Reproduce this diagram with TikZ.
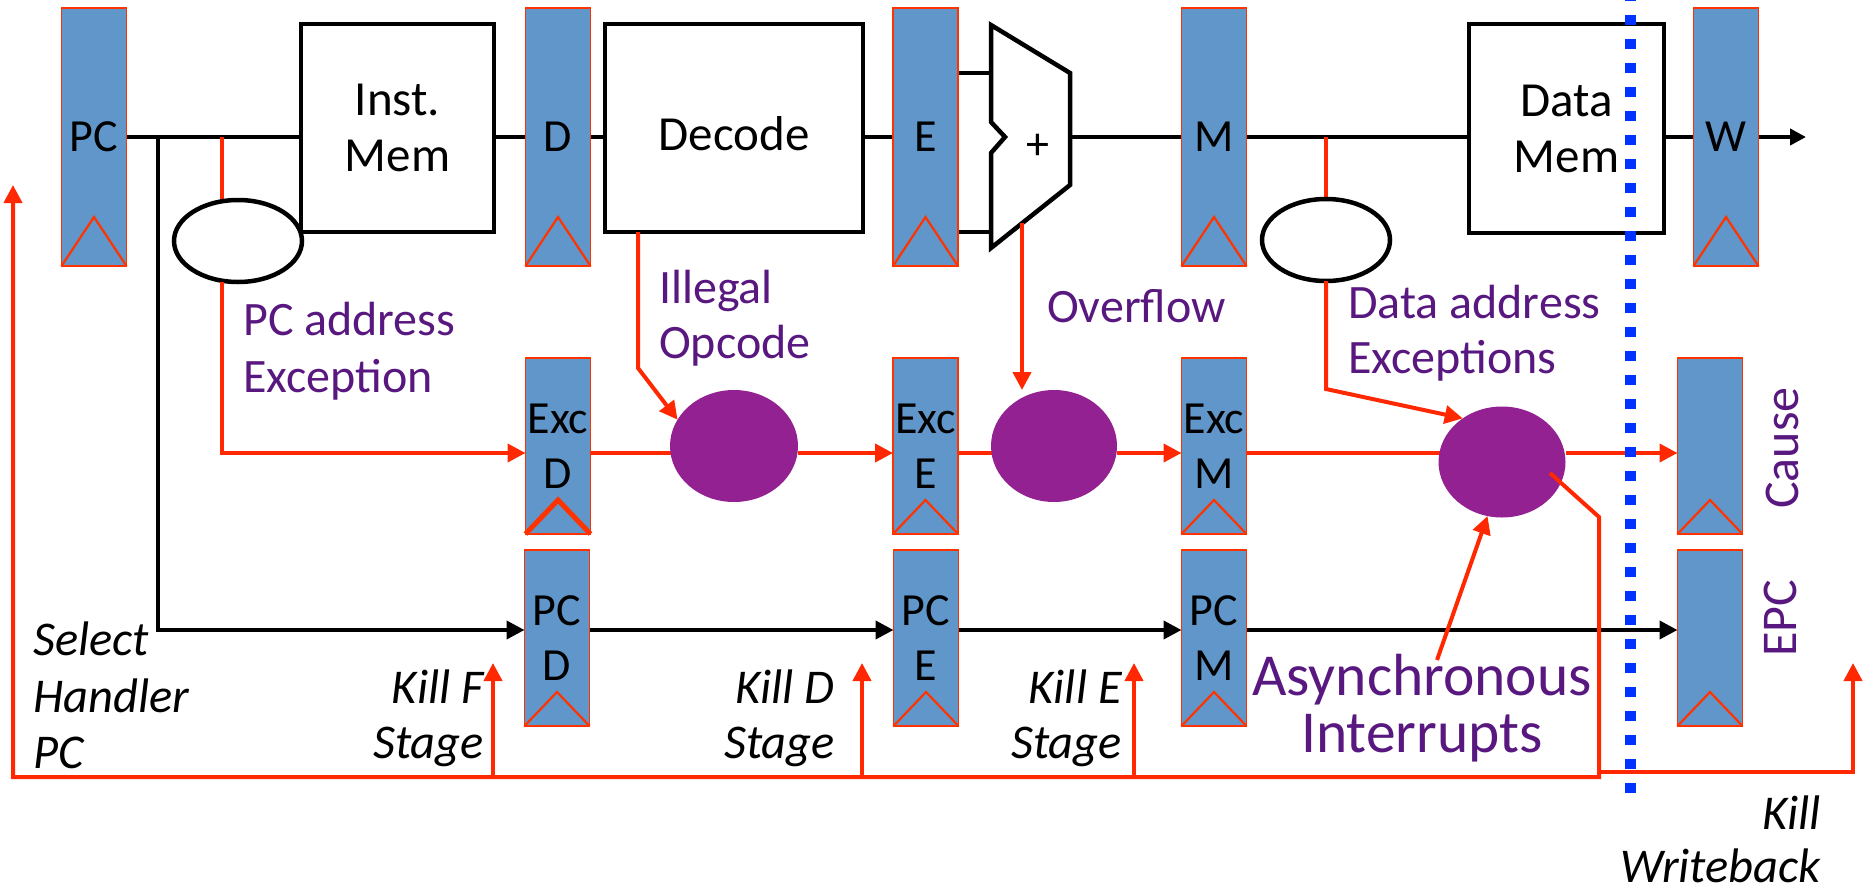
\documentclass[tikz,border=0pt]{standalone}
\usepackage{fontspec}
\setmainfont{Carlito}
\usetikzlibrary{arrows.meta,calc,shapes.geometric}
\pgfdeclarelayer{bg}
\pgfsetlayers{bg,main}
\definecolor{regblue}{RGB}{96,150,201}
\definecolor{regred}{RGB}{255,51,0}
\definecolor{wirered}{RGB}{255,40,0}
\definecolor{circpurple}{RGB}{147,33,145}
\definecolor{txtpurple}{RGB}{88,24,128}
\definecolor{dotblue}{RGB}{0,51,255}
\newcommand\regclock[3]{\draw[regred, line width=#3, line join=miter] (#1.south west) -- ($(#1.south)+(0,-#2)$) -- (#1.south east);}
\begin{document}
\begin{tikzpicture}[x=1pt,y=-1pt,
  reg/.style={draw=regred, line width=1.5pt, fill=regblue, minimum width=65pt, inner sep=0pt, outer sep=0pt,
    font=\fontsize{46}{55}\selectfont, align=center, text depth=0pt},
  mainreg/.style={reg, minimum height=258pt},
  smallreg/.style={reg, minimum height=176pt},
  blk/.style={draw=black, line width=4.5pt, fill=white, inner sep=0pt, outer sep=0pt,
    font=\fontsize{49}{56}\selectfont, align=center},
  oval/.style={ellipse, draw=black, line width=4.5pt, fill=white, inner sep=0pt, outer sep=0pt,
    minimum width=128pt, minimum height=82pt},
  dot/.style={ellipse, fill=circpurple, inner sep=0pt, outer sep=0pt},
  bw/.style={line width=4pt, draw=black},
  rw/.style={line width=4pt, draw=wirered, line join=miter},
  arr/.style={-{Triangle[length=18pt,width=18pt]}},
  ptxt/.style={text=txtpurple, font=\fontsize{48}{57}\selectfont, inner sep=0pt},
  itxt/.style={font=\fontsize{48.5}{57}\selectfont\itshape, inner sep=0pt},
  atxt/.style={text=txtpurple, font=\fontsize{59.5}{58}\selectfont, inner sep=0pt},
  rtxt/.style={text=txtpurple, font=\fontsize{50}{60}\selectfont, inner sep=0pt, rotate=90}
]
\useasboundingbox (0,0) rectangle (1864,892);

% ---------- registers and blocks ----------
\node[mainreg] (PC) at (94,137) {PC};
\node[blk, minimum width=193pt, minimum height=208pt] (IM) at (397.5,128) {Inst.\\Mem};
\node[mainreg] (D) at (558,137) {D};
\node[blk, minimum width=258pt, minimum height=208pt, text height=44pt, text depth=0pt] (DEC) at (734,128) {Decode};
\node[mainreg] (E) at (925.5,137) {E};
\node[mainreg] (M) at (1214,137) {M};
\node[blk, minimum width=195pt, minimum height=209pt] (DM) at (1566.5,128.5) {Data\\Mem};
\node[mainreg] (W) at (1726,137) {W};

\node[smallreg] (XD) at (558,446) {Exc\\D};
\node[smallreg] (XE) at (925.5,446) {Exc\\E};
\node[smallreg] (XM) at (1214,446) {Exc\\M};
\node[smallreg] (CA) at (1710,446) {};
\node[smallreg] (PD) at (557,638) {PC\\D};
\node[smallreg] (PE) at (926,638) {PC\\E};
\node[smallreg] (PM) at (1214,638) {PC\\M};
\node[smallreg] (EPC) at (1710,638) {};

\regclock{PC}{49}{2.2pt}
\regclock{D}{49}{2.2pt}
\regclock{E}{49}{2.2pt}
\regclock{M}{49}{2.2pt}
\regclock{W}{49}{2.2pt}
\regclock{XD}{34}{5pt}
\regclock{XE}{34}{2.2pt}
\regclock{XM}{34}{2.2pt}
\regclock{CA}{34}{2.2pt}
\regclock{PD}{34}{2.2pt}
\regclock{PE}{34}{2.2pt}
\regclock{PM}{34}{2.2pt}
\regclock{EPC}{34}{2.2pt}

% adder
\coordinate (a1) at (991,25);
\coordinate (a2) at (1070,73);
\coordinate (a3) at (1070,185);
\coordinate (a4) at (991,248);
\coordinate (a5) at (991,153);
\coordinate (a6) at (1005,137);
\coordinate (a7) at (991,122);
\draw[line width=4.5pt, fill=white, line join=miter] (a1) -- (a2) -- (a3) -- (a4) -- (a5) -- (a6) -- (a7) -- cycle;
\node[font=\fontsize{46}{54}\selectfont, inner sep=0pt] (plus) at (1038,147) {+};
\coordinate (ain1) at (991,73);
\coordinate (ain2) at (991,232);
\coordinate (aout) at (1070,137);

% checkers
\node[oval] (E1) at (238,241) {};
\node[oval] (E2) at (1326,240) {};
\node[dot, minimum width=128pt, minimum height=112pt] (C1) at (734,446) {};
\node[dot, minimum width=126pt, minimum height=112pt] (C2) at (1054,446) {};
\node[dot, minimum width=127pt, minimum height=111pt] (C3) at (1502,462) {};

% ---------- coordinates ----------
\coordinate (tapPC) at (158,137);
\coordinate (tapX) at (222,137);
\coordinate (excrow) at (0,453);
\coordinate (pcrow) at (0,630);
\coordinate (out) at (1806,137);
\coordinate (illsrc) at (638,232);
\coordinate (illbend) at (638,368);
\coordinate (ovsrc) at (1022,223);
\coordinate (dabend) at (1326,389);
\coordinate (asrc) at (1437,660);
\coordinate (bend3) at (1599,517);
\coordinate (busR) at (1599,777);
\coordinate (busL) at (13,777);
\coordinate (hndl) at (13,185);
\coordinate (kF) at (493,777);
\coordinate (kD) at (862,777);
\coordinate (kE) at (1134,777);
\coordinate (tipy) at (0,663);
\coordinate (wbL) at (1599,772);
\coordinate (wbR) at (1853,772);
\coordinate (vtop) at (1630,0);
\coordinate (vbot) at (1630,793);

% ---------- wires under nodes ----------
\begin{pgfonlayer}{bg}
\draw[bw] (PC.east) -- (IM.west |- PC.east);
\draw[bw] (IM.east |- PC.east) -- (D.west);
\draw[bw] (D.east) -- (DEC.west |- D.east);
\draw[bw] (DEC.east |- D.east) -- (E.west);
\draw[bw] (E.east |- ain1) -- (ain1);
\draw[bw] (E.east |- ain2) -- (ain2);
\draw[bw] (aout) -- (M.west |- aout);
\draw[bw] (M.east) -- (DM.west |- M.east);
\draw[bw] (DM.east |- M.east) -- (W.west);
\draw[rw] (tapX) -- (E1.north -| tapX);
\draw[rw] (E2 |- M.east) -- (E2.north);
\draw[rw] (XD.east |- excrow) -- (C1 |- excrow);
\draw[rw] (XE.east |- excrow) -- (C2 |- excrow);
\draw[rw] (XM.east |- excrow) -- (C3 |- excrow);
\end{pgfonlayer}

\draw[bw, -{Triangle[length=16pt,width=16pt]}] (W.east) -- (out);
\draw[bw, arr] (tapPC) |- (PD.west |- pcrow);
\draw[bw, arr] (PD.east |- pcrow) -- (PE.west |- pcrow);
\draw[bw, arr] (PE.east |- pcrow) -- (PM.west |- pcrow);
\draw[bw, arr] (PM.east |- pcrow) -- (EPC.west |- pcrow);

\draw[rw, arr] (E1.south -| tapX) |- (XD.west |- excrow);
\draw[rw, arr] (C1.east |- excrow) -- (XE.west |- excrow);
\draw[rw, arr] (C2.east |- excrow) -- (XM.west |- excrow);
\draw[rw, arr] (C3.east |- excrow) -- (CA.west |- excrow);
\draw[rw, arr] (illsrc) -- (illbend) -- (C1.155);
\draw[rw, arr] (ovsrc) -- (ovsrc |- C2.north);
\draw[rw, arr] (E2.south) -- (dabend) -- (C3.132);
\draw[rw, arr] (asrc) -- (C3.255);
\draw[rw, arr] ($(C3)+(48,11)$) -- (bend3) -- (busR) -- (busL) -- (hndl);
\draw[rw, arr] (kF) -- (kF |- tipy);
\draw[rw, arr] (kD) -- (kD |- tipy);
\draw[rw, arr] (kE) -- (kE |- tipy);
\draw[rw, arr] (wbL) -- (wbR) -- (wbR |- tipy);

% ---------- labels ----------
\node[ptxt, anchor=base west] (pca1) at (243,335) {PC address};
\node[ptxt, anchor=base west] (pca2) at (243,392) {Exception};
\node[ptxt, anchor=base west] (ill1) at (659,303) {Illegal};
\node[ptxt, anchor=base west] (ill2) at (659,358) {Opcode};
\node[ptxt, anchor=base west] (ovf) at (1047,322) {Overflow};
\node[ptxt, anchor=base west] (da1) at (1348,318) {Data address};
\node[ptxt, anchor=base west] (da2) at (1348,373) {Exceptions};
\node[atxt, anchor=base] (as1) at (1422,695) {Asynchronous};
\node[atxt, anchor=base] (as2) at (1422,752) {Interrupts};
\node[rtxt] (cause) at (1782,448) {Cause};
\node[rtxt] (epct) at (1780,618) {EPC};

\node[itxt, anchor=base west] (sel1) at (33,655) {Select};
\node[itxt, anchor=base west] (sel2) at (33,712) {Handler};
\node[itxt, anchor=base west] (sel3) at (33,768) {PC};
\node[itxt, anchor=base east] (kf1) at (484,703) {Kill F};
\node[itxt, anchor=base east] (kf2) at (484,758) {Stage};
\node[itxt, anchor=base east] (kd1) at (835,703) {Kill D};
\node[itxt, anchor=base east] (kd2) at (835,758) {Stage};
\node[itxt, anchor=base east] (ke1) at (1122,703) {Kill E};
\node[itxt, anchor=base east] (ke2) at (1122,758) {Stage};
\node[itxt, anchor=base east] (kw1) at (1821,829) {Kill};
\node[itxt, anchor=base east] (kw2) at (1821,882) {Writeback};

% ---------- stage boundary ----------
\draw[dotblue, line width=11pt, dash pattern=on 10pt off 14pt, dash phase=9pt] (vtop) -- (vbot);
\end{tikzpicture}
\end{document}
